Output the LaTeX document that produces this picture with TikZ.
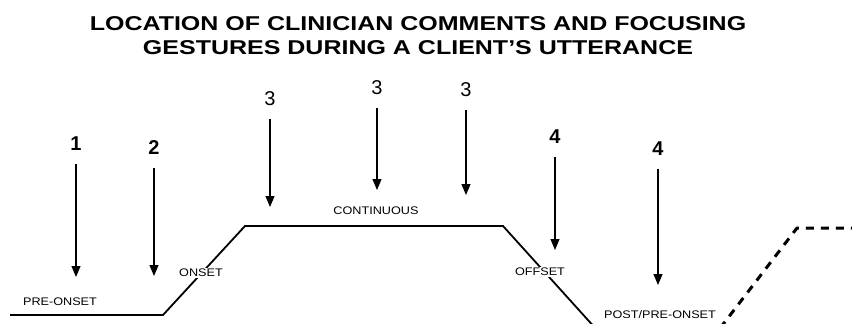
\documentclass[tikz,border=0pt]{standalone}
\usepackage{fontspec}
\setmainfont{Liberation Sans}
\newfontfamily\titlefont[FakeStretch=1.25]{Liberation Sans}
\newfontfamily\stagefont[FakeStretch=1.15]{Liberation Sans}
\usetikzlibrary{arrows.meta}

\tikzset{
  utterance/.style={line width=1.8pt},
  gesture/.style={line width=1.2pt,-{Triangle[width=9pt,length=11pt]}},
  digit/.style={font=\bfseries\fontsize{20}{20}\selectfont,inner sep=0pt,minimum height=39pt},
  digitlight/.style={digit,font=\fontsize{20}{20}\selectfont},
  stage/.style={font=\stagefont\fontsize{11}{11}\selectfont,inner sep=1.5pt}
}

\begin{document}
\begin{tikzpicture}[x=1pt,y=-1pt]
\useasboundingbox (0,0) rectangle (852,324);

\node[font=\titlefont\bfseries\fontsize{20}{24}\selectfont,align=center] (title) at (418,36)
  {LOCATION OF CLINICIAN COMMENTS AND FOCUSING\\GESTURES DURING A CLIENT’S UTTERANCE};

\begin{scope}
\clip (0,0) rectangle (852,324);

\draw[utterance] (10,315) coordinate (a) -- (163,315) coordinate (b) -- (245,226) coordinate (c)
  -- (503,226) coordinate (d) -- (606,340) coordinate (e);
\draw[utterance,line width=3pt,dash pattern=on 8pt off 7pt] (711,340) coordinate (f)
  -- (797,228) coordinate (g) -- (860,228) coordinate (h);

\end{scope}

\node[stage] (preonset) at (60,302) {PRE-ONSET};
\node[stage,fill=white] (onset) at (201,273) {ONSET};
\node[stage] (continuous) at (376,211) {CONTINUOUS};
\node[stage,fill=white] (offset) at (540,272) {OFFSET};
\node[stage] (postpre) at (660,315) {POST/PRE-ONSET};

\node[digit] (g1) at (76,144) {1};
\node[digit] (g2) at (154,148) {2};
\node[digitlight] (g3a) at (270,99) {3};
\node[digitlight] (g3b) at (377,88) {3};
\node[digitlight] (g3c) at (466,90) {3};
\node[digit] (g4a) at (555,137) {4};
\node[digit] (g4b) at (658,149) {4};

\coordinate (t1) at (76,277);
\coordinate (t2) at (154,276);
\coordinate (t3a) at (270,207);
\coordinate (t3b) at (377,190);
\coordinate (t3c) at (466,195);
\coordinate (t4a) at (555,250);
\coordinate (t4b) at (658,285);

\draw[gesture] (g1) -- (t1);
\draw[gesture] (g2) -- (t2);
\draw[gesture] (g3a) -- (t3a);
\draw[gesture] (g3b) -- (t3b);
\draw[gesture] (g3c) -- (t3c);
\draw[gesture] (g4a) -- (t4a);
\draw[gesture] (g4b) -- (t4b);

\end{tikzpicture}
\end{document}
